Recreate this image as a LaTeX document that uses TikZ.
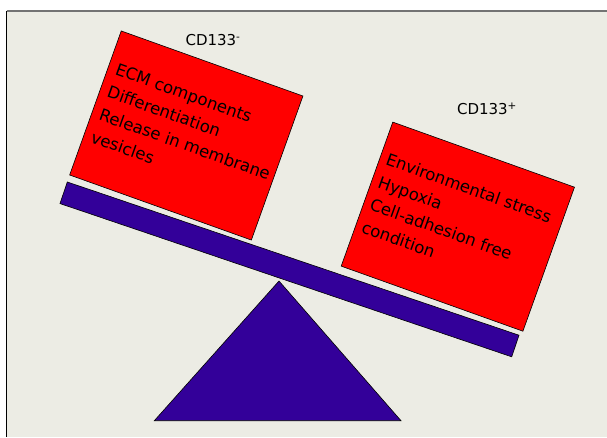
\documentclass[tikz,border=0pt]{standalone}
\usepackage{fontspec}
\setmainfont{DejaVu Sans}
\usepackage{tikz}
\usetikzlibrary{positioning}
\usetikzlibrary{calc}
\definecolor{slidebg}{RGB}{236,236,228}
\definecolor{beamblue}{RGB}{51,0,153}

\begin{document}
\begin{tikzpicture}[x=1pt,y=-1pt,line width=0.6pt]
\tikzstyle{weight}=[draw,rectangle,fill=red,rotate=-19.7,minimum width=193pt,minimum height=153pt,inner sep=0pt]
\tikzstyle{reason}=[rotate=-19.7,anchor=north west,align=left,inner sep=0pt,font=\fontsize{16.5}{24}\selectfont]
\tikzstyle{marker}=[inner sep=0pt,font=\fontsize{15}{18}\selectfont]
\useasboundingbox (0,0) rectangle (607,437);
\fill[white] (0,0) rectangle (607,437);
\fill[slidebg] (7,11) rectangle (607,437);
\draw[black!55,line width=1.5pt] (6.5,11) -- (607,11);
\draw[black,line width=1.5pt] (6.5,11) -- (6.5,437);
\node [draw,rectangle,fill=beamblue,rotate=-18.74,minimum width=477pt,minimum height=22.8pt,inner sep=0pt] (beam) at (289.5,269.4) {};
\coordinate (apex) at (279,281);
\coordinate (baseleft) at (154.3,420.7);
\coordinate (baseright) at (401,420.7);
\draw[fill=beamblue] (apex) -- (baseleft) -- (baseright) -- cycle;
\node [weight] (neg) at (186.3,135.5) {};
\node [weight] (pos) at (457.85,226.65) {};
\node [reason] (negtext) at ($(neg.north west)!31pt!(neg.south west)+(7.6,2.7)$) {ECM components\\Differentiation\\Release in membrane\\vesicles};
\node [reason] (postext) at ($(pos.north west)!30pt!(pos.south west)+(6.5,2.3)$) {Environmental stress\\Hypoxia\\Cell-adhesion free\\condition};
\node [marker] (neglabel) at (213,40) {CD133\textsuperscript{-}};
\node [marker] (poslabel) at (487,109) {CD133\textsuperscript{+}};
\end{tikzpicture}
\end{document}
